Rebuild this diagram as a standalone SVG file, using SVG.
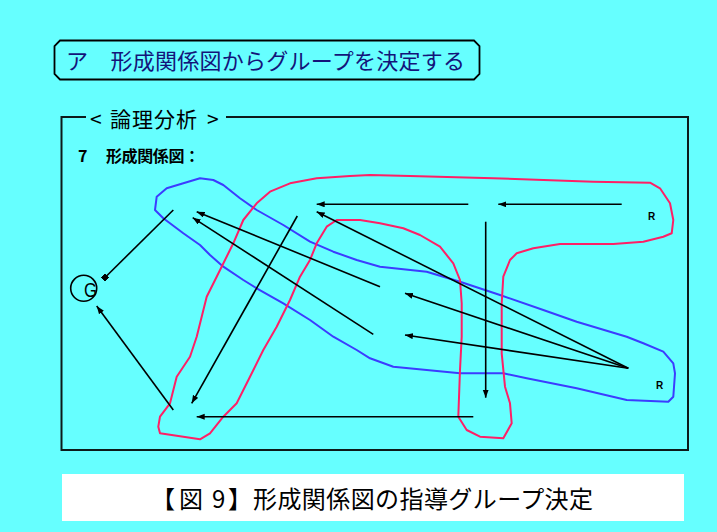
<svg xmlns="http://www.w3.org/2000/svg" width="717" height="532" viewBox="0 0 717 532">
<defs>
<marker id="ah" markerWidth="9" markerHeight="7" refX="8" refY="3" orient="auto" markerUnits="userSpaceOnUse">
<path d="M0,0 L8,3 L0,6 z" fill="#000"/>
</marker>
<marker id="sq" markerWidth="6" markerHeight="6" refX="3" refY="3" orient="auto" markerUnits="userSpaceOnUse">
<rect x="0" y="0" width="6" height="6" fill="#000"/>
</marker>
<style>
.jp{font-family:"Noto Sans CJK JP","Noto Sans",sans-serif}
.ar{fill:none;stroke:#000;stroke-width:1.6}
.loop{fill:none;stroke-width:2;stroke-linejoin:round}
</style>
</defs>
<rect width="717" height="532" fill="#66ffff"/>
<g id="title">
<path d="M60,40.5 L474,40.5 L479.5,46 L479.5,74 L474,79.5 L60,79.5 L54.5,74 L54.5,46 Z" fill="none" stroke="#000" stroke-width="1.8"/>
<text class="jp" x="66" y="69" font-size="22" fill="#14147a" textLength="399">ア　形成関係図からグループを決定する</text>
</g>
<g id="frame">
<path d="M86,117 L61.5,117 L61.5,450 L688,450 L688,117 L226,117" fill="none" stroke="#0d1a1a" stroke-width="2"/>
<text class="jp" font-size="21" fill="#000"><tspan x="90" y="127">&lt;</tspan><tspan x="110" y="127" textLength="87">論理分析</tspan><tspan x="207" y="127">&gt;</tspan></text>
<text class="jp" x="78" y="162" font-size="16" font-weight="bold" fill="#000">7<tspan x="106" textLength="94">形成関係図：</tspan></text>
</g>
<g id="loops">
<path class="loop" stroke="#3c3cff" d="M155,210 L156.7,196.7 L166.7,188.3 L183.3,183.3 L200,178.3 L213.3,180 L223.3,185 L240,198.3 L256.7,210 L283.3,225 L310,241.7 L333.3,251.7 L356.7,260 L380,266.7 L426.7,271.7 L460,281.7 L500,295 L543.3,310 L576.7,321.7 L626.7,336.7 L643.3,343.3 L663.3,351.7 L673.3,363.3 L675,373.3 L673.3,396.7 L668.3,401.7 L626.7,400 L576.7,388.3 L526.7,378.3 L503.3,373.3 L460,373.3 L426.7,370 L393.3,366.7 L370,358.3 L356.7,350 L333.3,336.7 L310,320 L283.3,303.3 L256.7,288.3 L243.3,280 L223.3,266.7 L210,255 L200,245 L183.3,233.3 L163.3,218.3 Z"/>
<path class="loop" stroke="#ff1f66" d="M158.3,426.7 L160,416.7 L170,403.3 L176.7,376.7 L190,356.7 L196.7,336.7 L206.7,296.7 L216.7,276.7 L233.3,243.3 L243.3,220 L256.7,203.3 L270,191.7 L290,183.3 L316.7,178.3 L350,176 L370,175 L410,176 L493.3,178.3 L593.3,181.7 L650,182.7 L660,188.3 L670,203.3 L673.3,220 L671.7,233.3 L663.3,236.7 L643.3,241.7 L613.3,244 L560,244 L533.3,248.3 L516.7,253.3 L510,260 L503.3,276.7 L501.7,303.3 L501.7,353.3 L505,386.7 L510,403.3 L511.7,423.3 L503.3,438.3 L480,436.7 L466.7,430 L458.3,416.7 L460,370 L461.7,336.7 L461.7,303.3 L460,280 L453.3,263.3 L440,246.7 L420,235 L403.3,228.3 L380,223.3 L360,220 L336.7,220 L326.7,226.7 L316.7,243.3 L310,260 L300,276.7 L290,300 L276.7,326.7 L263.3,350 L250,376.7 L236.7,403.3 L223.3,416.7 L210,433.3 L200,439.3 L160,433.3 Z"/>
</g>
<g id="node-G">
<circle cx="83.7" cy="288.3" r="13" fill="none" stroke="#000" stroke-width="1.6"/>
<text x="90.5" y="297" font-family="Liberation Sans,sans-serif" font-size="21" text-anchor="middle" fill="#000" textLength="13" lengthAdjust="spacingAndGlyphs">G</text>
</g>
<g id="node-R1">
<text x="651.7" y="219.5" font-family="Liberation Sans,sans-serif" font-size="10" font-weight="bold" text-anchor="middle" fill="#000">R</text>
</g>
<g id="node-R2">
<text x="659.5" y="388.5" font-family="Liberation Sans,sans-serif" font-size="10" font-weight="bold" text-anchor="middle" fill="#000">R</text>
</g>
<g id="connectors">
<line class="ar" x1="173.3" y1="210" x2="105" y2="277.5" marker-end="url(#sq)"/>
<line class="ar" x1="173.3" y1="410" x2="96.7" y2="306" marker-end="url(#ah)"/>
<line class="ar" x1="468.3" y1="204.3" x2="316.7" y2="204.3" marker-end="url(#ah)"/>
<line class="ar" x1="621.7" y1="204.3" x2="498.3" y2="204.3" marker-end="url(#ah)"/>
<line class="ar" x1="628.3" y1="368.3" x2="316.7" y2="211.7" marker-end="url(#ah)"/>
<line class="ar" x1="380" y1="286.7" x2="196.7" y2="211.7" marker-end="url(#ah)"/>
<line class="ar" x1="373.3" y1="334.3" x2="192.7" y2="217.7" marker-end="url(#ah)"/>
<line class="ar" x1="628.3" y1="368.3" x2="405" y2="293.3" marker-end="url(#ah)"/>
<line class="ar" x1="628.3" y1="368.3" x2="405" y2="335" marker-end="url(#ah)"/>
<line class="ar" x1="297.3" y1="216" x2="191.7" y2="403.3" marker-end="url(#ah)"/>
<line class="ar" x1="485.7" y1="221.7" x2="485.7" y2="397.7" marker-end="url(#ah)"/>
<line class="ar" x1="473.3" y1="416.7" x2="196.7" y2="416.7" marker-end="url(#ah)"/>
</g>
<g id="caption">
<rect x="62" y="474" width="622" height="47" fill="#fff"/>
<text class="jp" font-size="24" fill="#000"><tspan x="151" y="508">【</tspan><tspan x="179" y="508">図</tspan><tspan x="212" y="508">9</tspan><tspan x="228" y="508">】</tspan><tspan x="253" y="508" textLength="340">形成関係図の指導グループ決定</tspan></text>
</g>
</svg>
